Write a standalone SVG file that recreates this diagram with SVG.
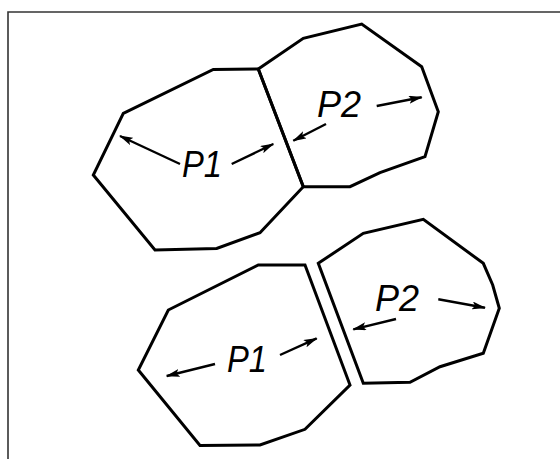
<svg xmlns="http://www.w3.org/2000/svg" width="560" height="459" viewBox="0 0 560 459">
<style>
.cell{fill:none;stroke:#000;stroke-width:3;stroke-linejoin:miter}
.arr{fill:none;stroke:#000;stroke-width:2.4;marker-end:url(#ah)}
.lbl{font-family:"Liberation Sans",Arial,sans-serif;font-style:italic;font-size:36px;fill:#000}
.frame{fill:none;stroke:#333;stroke-width:1.6}
</style>
<defs>
<marker id="ah" viewBox="0 0 14 8" refX="13" refY="4" markerWidth="14" markerHeight="8" markerUnits="userSpaceOnUse" orient="auto">
<path d="M0,0 L14,4 L0,8 L3,4 Z" fill="#000"/>
</marker>
</defs>
<rect width="560" height="459" fill="#fff"/>
<polyline class="frame" points="8,459 8,12 560,12"/>
<g id="top-P1">
<polygon class="cell" points="258.3,69 213.3,69.5 123.3,113.3 93.3,175 155,250 216.7,248.5 260,232.7 303.3,186.7"/>
<text class="lbl" x="182" y="177" textLength="40" lengthAdjust="spacingAndGlyphs">P1</text>
</g>
<g id="top-P2">
<polygon class="cell" points="258.3,69 303.3,38.3 361.7,24 421.7,66.7 438.3,111.7 425,156.7 380,172.7 350,186.7 303.3,186.7"/>
<text class="lbl" x="317" y="117">P2</text>
</g>
<g id="bottom-P1">
<polygon class="cell" points="258.3,265 305,265 350,385 305,429.3 260,445 200,445.5 138.3,370 168.3,310"/>
<text class="lbl" x="227" y="372" textLength="40" lengthAdjust="spacingAndGlyphs">P1</text>
</g>
<g id="bottom-P2">
<polygon class="cell" points="318.3,263.3 363.3,233.3 423.3,219.3 483.3,263.3 492.7,285 499.3,308.3 483.3,353.3 440,366.7 410,382.3 363.3,383.3"/>
<text class="lbl" x="375" y="311">P2</text>
</g>
<g id="connectors">
<line class="arr" x1="180" y1="164" x2="120" y2="136"/>
<line class="arr" x1="231.7" y1="164" x2="273.3" y2="144"/>
<line class="arr" x1="376.7" y1="106" x2="421.7" y2="97.3"/>
<line class="arr" x1="326" y1="124" x2="293.3" y2="140.7"/>
<line class="arr" x1="215" y1="364" x2="166.7" y2="376"/>
<line class="arr" x1="280" y1="355" x2="316.7" y2="338.3"/>
<line class="arr" x1="438.3" y1="299.3" x2="485" y2="307.7"/>
<line class="arr" x1="396" y1="319" x2="353.3" y2="329.3"/>
</g>
</svg>
